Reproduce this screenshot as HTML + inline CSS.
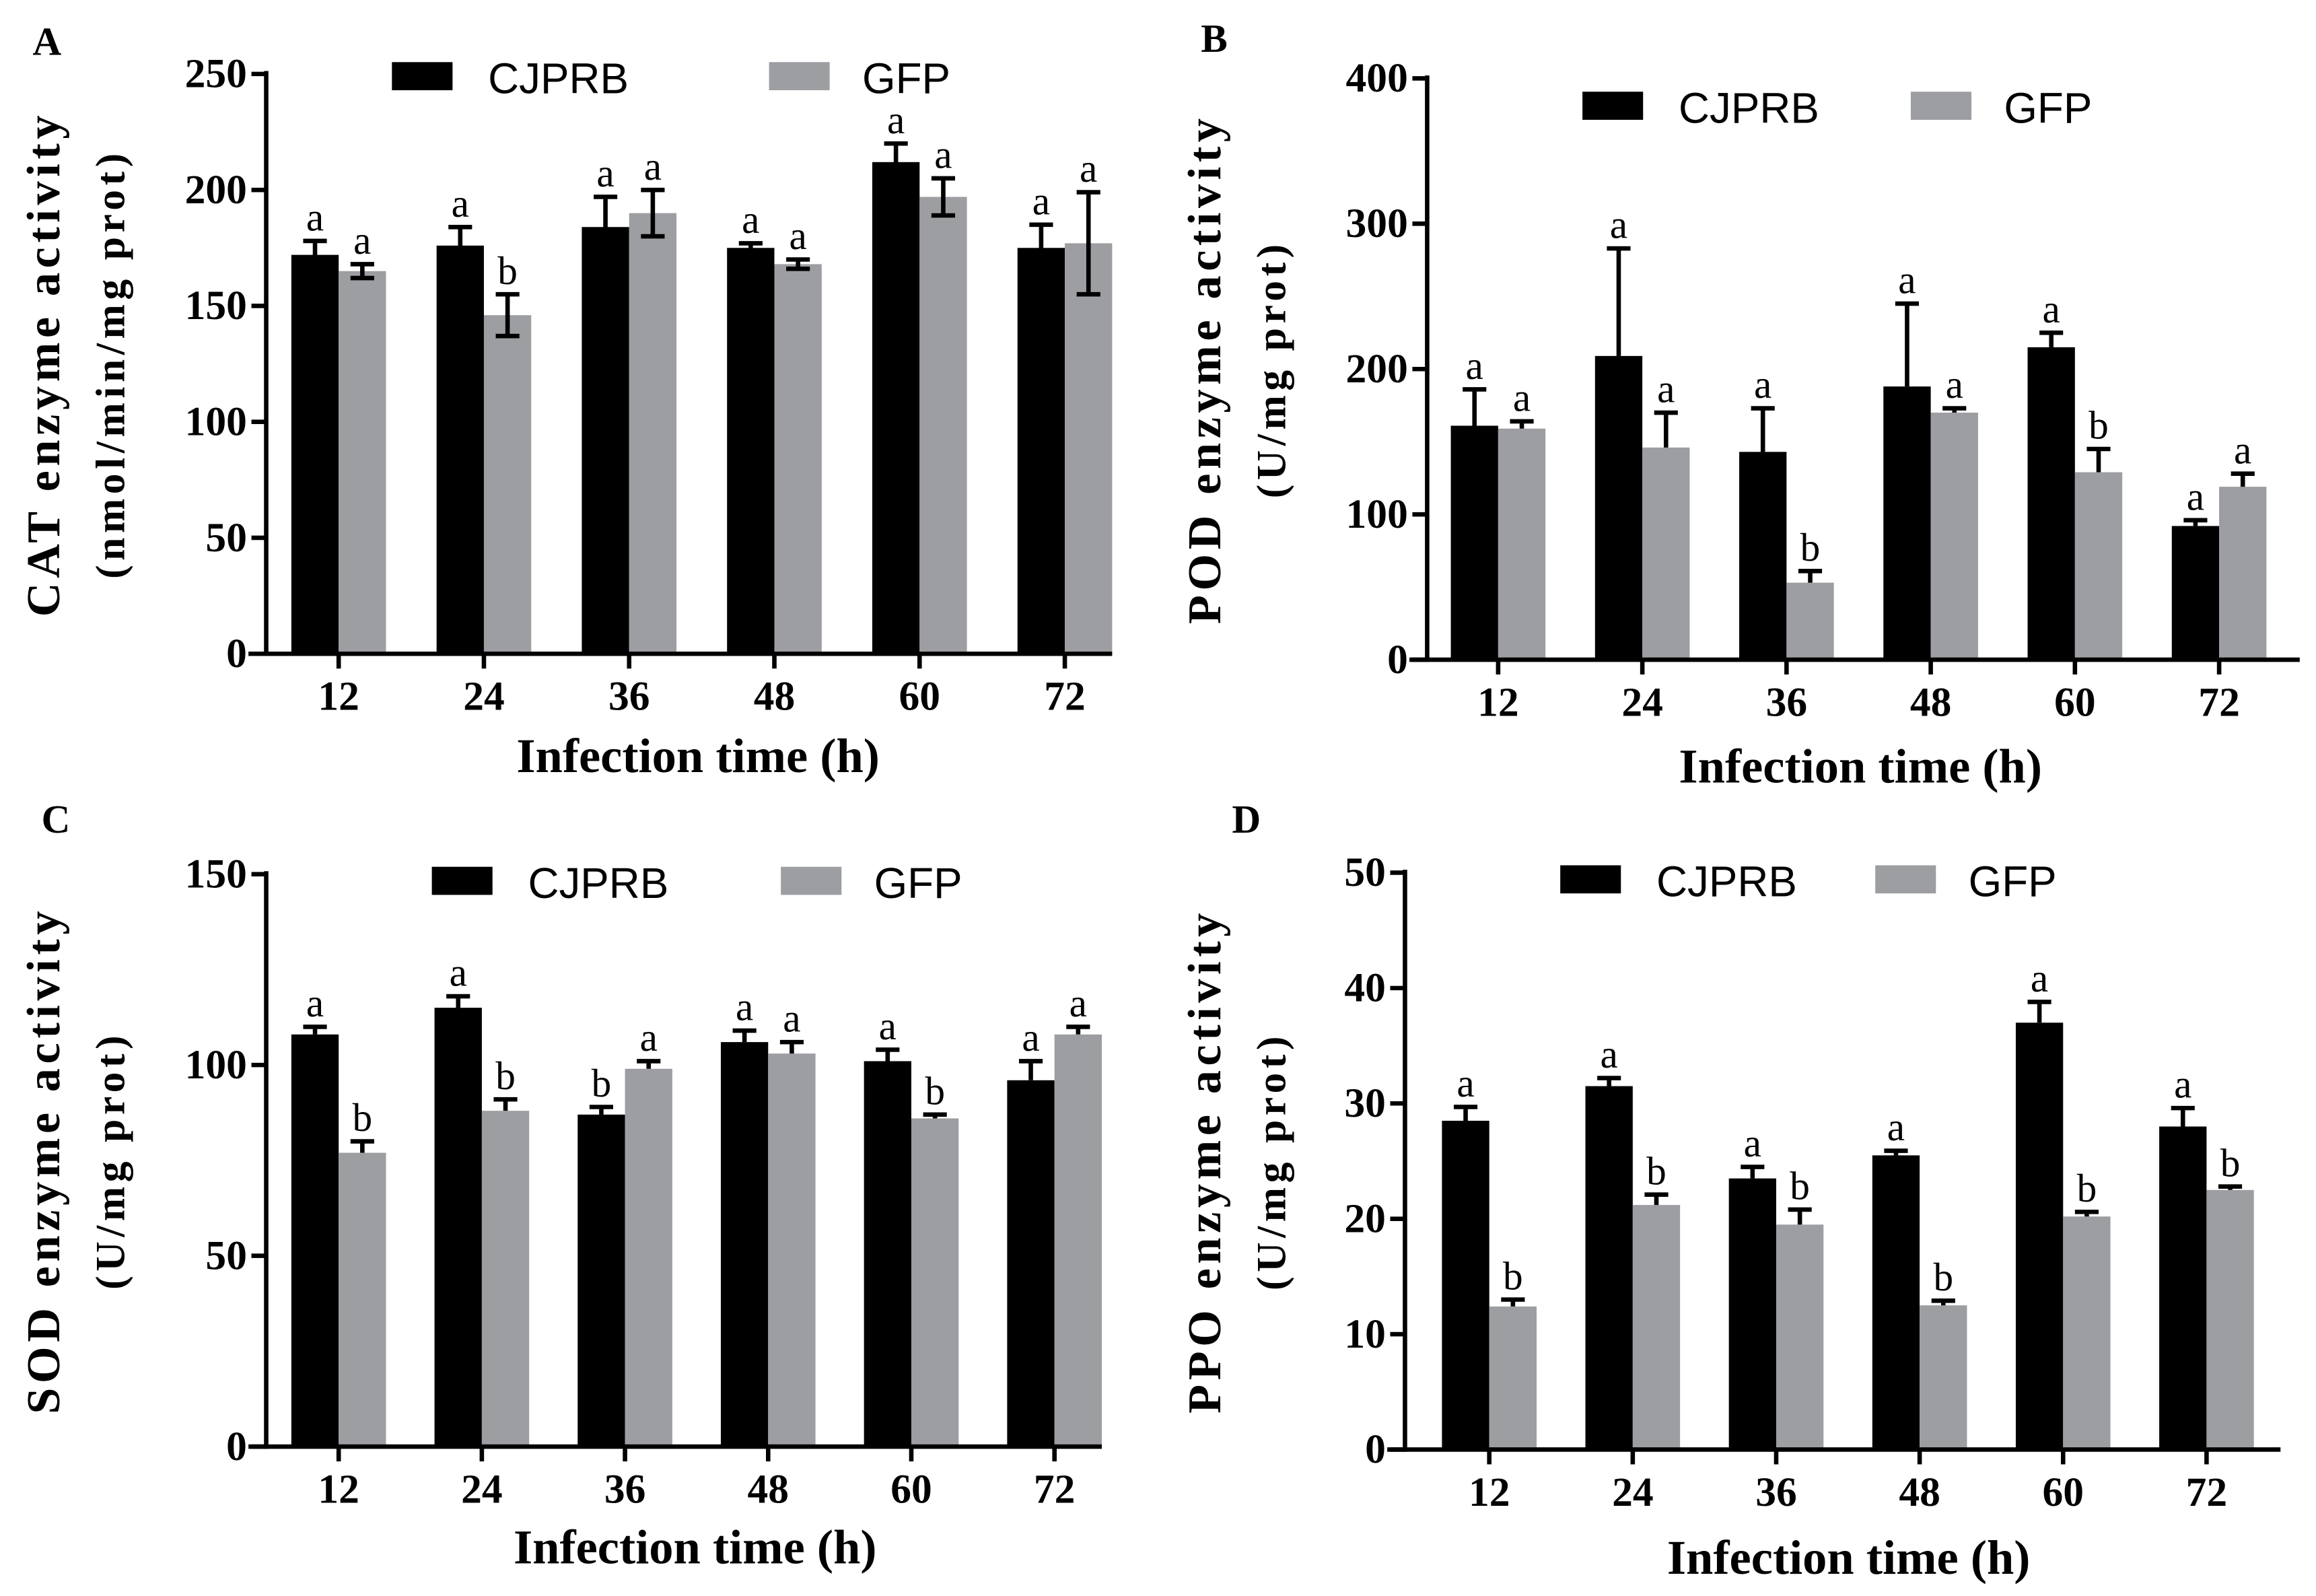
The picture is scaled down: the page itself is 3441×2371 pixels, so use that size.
<!DOCTYPE html>
<html><head><meta charset="utf-8"><style>html,body{margin:0;padding:0;background:#fff}svg{display:block}</style></head>
<body>
<svg id="fig" xmlns="http://www.w3.org/2000/svg" width="3441" height="2371" viewBox="0 0 1566 1079" preserveAspectRatio="none"></svg>
<script>
const categories = ["12","24","36","48","60","72"];
const catBlack = [172,176,184,175,212,175];
const catBlackErr = [6,8,13,2,8,10];
const catGray = [165,146,190,168,197,177];
const catGrayErr = [3,9,10,2,8,22];
const catBlackSig = ["a","a","a","a","a","a"];
const catGraySig = ["a","b","a","a","a","a"];
const catTicks = [0,50,100,150,200,250];

const podBlack = [161,209,143,188,215,92];
const podBlackErr = [25,74,30,57,10,4];
const podGray = [159,146,53,170,129,119];
const podGrayErr = [5,24,8,3,16,9];
const podBlackSig = ["a","a","a","a","a","a"];
const podGraySig = ["a","a","b","a","b","a"];
const podTicks = [0,100,200,300,400];

const sodBlack = [108,115,87,106,101,96];
const sodBlackErr = [2,3,2,3,3,5];
const sodGray = [77,88,99,103,86,108];
const sodGrayErr = [3,3,2,3,1,2];
const sodBlackSig = ["a","a","b","a","a","a"];
const sodGraySig = ["b","b","a","a","b","a"];
const sodTicks = [0,50,100,150];

const ppoBlack = [28.5,31.5,23.5,25.5,37,28];
const ppoBlackErr = [1.2,0.7,1,0.4,1.8,1.6];
const ppoGray = [12.4,21.2,19.5,12.5,20.2,22.5];
const ppoGrayErr = [0.6,0.9,1.3,0.4,0.4,0.3];
const ppoBlackSig = ["a","a","a","a","a","a"];
const ppoGraySig = ["b","b","b","b","b","b"];
const ppoTicks = [0,10,20,30,40,50];

const NS="http://www.w3.org/2000/svg";
const svg=document.getElementById('fig');
const SERIF='"Liberation Serif", serif', SANS='"Liberation Sans", sans-serif';
const BLACK='#000', GRAY='#9d9ea2';

function mk(tag,attrs,parent){const e=document.createElementNS(NS,tag);for(const k in attrs)e.setAttribute(k,attrs[k]);(parent||svg).appendChild(e);return e;}
function txt(s,attrs,parent){const e=mk('text',attrs,parent);e.textContent=s;return e;}

function panel(cfg){
  const g=mk('g',{});
  
  
  const ymax=cfg.ticks[cfg.ticks.length-1];
  const y=v=>cfg.y0-(v/ymax)*(cfg.y0-cfg.ytop);
  const x=i=>cfg.cx0+i*cfg.step;
  const bw=32;
  const L=txt(cfg.letter,{x:cfg.lx,y:cfg.ly,'font-family':SERIF,'font-weight':'bold','font-size':27},g);
  
  
  for(let i=0;i<categories.length;i++){
    const series=[[cfg.black[i],cfg.blackErr[i],cfg.blackSig[i],BLACK,x(i)-bw,'black'],[cfg.gray[i],cfg.grayErr[i],cfg.graySig[i],GRAY,x(i),'gray']];
    for(const s of series){
      const [v,e,sig,col,bx,nm]=s;
      const r=mk('rect',{x:bx,y:y(v),width:bw,height:cfg.y0-y(v),fill:col},g);
      
      
      const mx=bx+bw/2;
      const lo=cfg.both?y(v-e):y(v);
      const eb=mk('path',{d:`M${mx},${lo}L${mx},${y(v+e)}M${mx-8},${y(v+e)}L${mx+8},${y(v+e)}`+(cfg.both?`M${mx-8},${lo}L${mx+8},${lo}`:''),stroke:'#000','stroke-width':3,fill:'none'},g);
      
      
      const t=txt(sig,{x:mx,y:y(v+e)-7,'text-anchor':'middle','font-family':SERIF,'font-size':27},g);
      
      
    }
  }
  const ya=mk('line',{x1:cfg.ax,y1:cfg.ytop-2,x2:cfg.ax,y2:cfg.y0+1.5,stroke:'#000','stroke-width':3},g);
  
  
  const xa=mk('line',{x1:cfg.ax-12,y1:cfg.y0,x2:cfg.xend,y2:cfg.y0,stroke:'#000','stroke-width':3},g);
  
  
  for(const t of cfg.ticks){
    mk('line',{x1:cfg.ax-10,y1:y(t),x2:cfg.ax,y2:y(t),stroke:'#000','stroke-width':3},g);
    const tl=txt(String(t),{x:cfg.ax-13,y:y(t)+9,'text-anchor':'end','font-family':SERIF,'font-weight':'bold','font-size':28},g);
    
    
  }
  for(let i=0;i<categories.length;i++){
    mk('line',{x1:x(i),y1:cfg.y0,x2:x(i),y2:cfg.y0+10,stroke:'#000','stroke-width':3},g);
    const tl=txt(categories[i],{x:x(i),y:cfg.y0+38,'text-anchor':'middle','font-family':SERIF,'font-weight':'bold','font-size':28},g);
    
    
  }
  const xt=txt('Infection time (h)',{x:cfg.xtx,y:cfg.xty,'text-anchor':'middle','font-family':SERIF,'font-weight':'bold','font-size':33},g);
  
  
  const cy=(cfg.ytop+cfg.y0)/2;
  const t1=txt(cfg.ytitle1,{x:0,y:0,transform:`translate(${cfg.t1x},${cy}) rotate(-90)`,'text-anchor':'middle','font-family':SERIF,'font-weight':'bold','font-size':32,'letter-spacing':3},g);
  
  
  const t2=txt(cfg.ytitle2,{x:0,y:0,transform:`translate(${cfg.t1x+44},${cy}) rotate(-90)`,'text-anchor':'middle','font-family':SERIF,'font-weight':'bold','font-size':28,'letter-spacing':3},g);
  
  
  const lg=mk('g',{},g);
  
  
  const s1=mk('rect',{x:cfg.legx,y:cfg.legy-10,width:41,height:19,fill:BLACK},lg);
  
  
  const l1=txt('CJPRB',{x:cfg.legx+65,y:cfg.legy+11,'font-family':SANS,'font-size':29},lg);
  
  
  const s2=mk('rect',{x:cfg.legx2,y:cfg.legy-10,width:41,height:19,fill:GRAY},lg);
  
  
  const l2=txt('GFP',{x:cfg.legx2+63,y:cfg.legy+11,'font-family':SANS,'font-size':29},lg);
  
  
}

panel({name:'panel-a-cat',letter:'A',lx:22,ly:37,ax:180,y0:442,ytop:50,cx0:229,step:98.2,xend:752,ticks:catTicks,
  black:catBlack,blackErr:catBlackErr,gray:catGray,grayErr:catGrayErr,blackSig:catBlackSig,graySig:catGraySig,both:true,
  xtx:472,xty:522,t1x:40,ytitle1:'CAT enzyme activity',ytitle2:'(nmol/min/mg prot)',legx:265,legx2:520,legy:52});
panel({name:'panel-b-pod',letter:'B',lx:812,ly:35,ax:965,y0:446,ytop:53,cx0:1013,step:97.5,xend:1555,ticks:podTicks,
  black:podBlack,blackErr:podBlackErr,gray:podGray,grayErr:podGrayErr,blackSig:podBlackSig,graySig:podGraySig,both:false,
  xtx:1258,xty:529,t1x:825,ytitle1:'POD enzyme activity',ytitle2:'(U/mg prot)',legx:1070,legx2:1292,legy:72});
panel({name:'panel-c-sod',letter:'C',lx:28,ly:563,ax:180,y0:978,ytop:591,cx0:229,step:96.8,xend:745,ticks:sodTicks,
  black:sodBlack,blackErr:sodBlackErr,gray:sodGray,grayErr:sodGrayErr,blackSig:sodBlackSig,graySig:sodGraySig,both:false,
  xtx:470,xty:1057,t1x:40,ytitle1:'SOD enzyme activity',ytitle2:'(U/mg prot)',legx:292,legx2:528,legy:596});
panel({name:'panel-d-ppo',letter:'D',lx:833,ly:563,ax:950,y0:980,ytop:590,cx0:1007,step:97,xend:1542,ticks:ppoTicks,
  black:ppoBlack,blackErr:ppoBlackErr,gray:ppoGray,grayErr:ppoGrayErr,blackSig:ppoBlackSig,graySig:ppoGraySig,both:false,
  xtx:1250,xty:1064,t1x:825,ytitle1:'PPO enzyme activity',ytitle2:'(U/mg prot)',legx:1055,legx2:1268,legy:595});
</script>
</body></html>
